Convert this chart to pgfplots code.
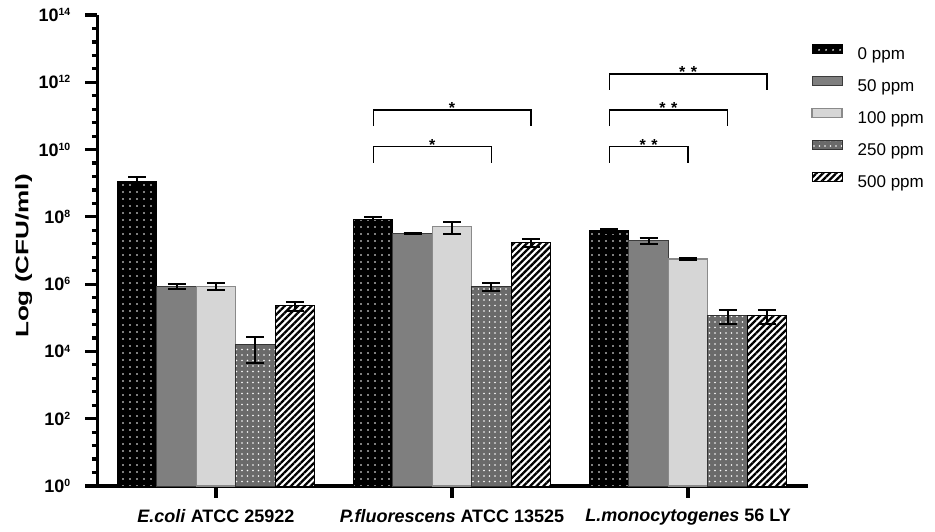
\documentclass[border=0pt]{standalone}
\usepackage{pgfplots}
\pgfplotsset{compat=1.18}
\usepackage{fontspec}
\setmainfont{Liberation Sans}
\usepackage{graphicx}
\usetikzlibrary{patterns,patterns.meta}

\definecolor{cfifty}{HTML}{7F7F7F}
\definecolor{cfiftyd}{HTML}{3C3C3C}
\definecolor{chund}{HTML}{D6D6D6}
\definecolor{chundd}{HTML}{8A8A8A}
\definecolor{ctwofifty}{HTML}{6A6A6A}
\definecolor{ctwofiftyd}{HTML}{333333}

\newcommand{\tl}[1]{10\raisebox{5.8pt}{\fontsize{10.5}{10.5}\selectfont #1}}

\pgfplotsset{my legend/.style={legend image code/.code={\draw[##1] (0pt,1.5pt) rectangle (30pt,10.5pt);}}}

\begin{document}
\begin{tikzpicture}
\useasboundingbox (0,0) rectangle (935pt,531pt);
\begin{axis}[
  at={(97.5pt,45pt)}, anchor=south west,
  scale only axis, width=710.5pt, height=471pt,
  ymode=log, ymin=1, ymax=1e14,
  xmin=-0.502, xmax=2.508,
  ybar=0pt, bar width=0.167,
  axis x line=bottom, axis y line=left,
  axis line style={-, line width=3.5pt, black},
  tick align=outside, xtick align=outside, ytick align=outside,
  major tick length=12pt, minor tick length=5.5pt,
  tick style={line width=3.2pt, black, line cap=butt},
  xtick={0,1,2},
  xticklabels={{\textit{E.coli} ATCC 25922},{\textit{P.fluorescens} ATCC 13525},{\textit{L.monocytogenes} 56 LY}},
  ytick={1,1e2,1e4,1e6,1e8,1e10,1e12,1e14},
  yticklabels={\tl{0},\tl{2},\tl{4},\tl{6},\tl{8},\tl{10},\tl{12},\tl{14}},
  minor ytick={2.5119,6.3096,15.849,39.811,251.19,630.96,1584.9,3981.1,2.5119e4,6.3096e4,1.5849e5,3.9811e5,2.5119e6,6.3096e6,1.5849e7,3.9811e7,2.5119e8,6.3096e8,1.5849e9,3.9811e9,2.5119e10,6.3096e10,1.5849e11,3.9811e11,2.5119e12,6.3096e12,1.5849e13,3.9811e13},
  ticklabel style={font=\fontsize{18}{18}\selectfont\bfseries},
  xticklabel style={anchor=north, inner sep=0pt, yshift=-11pt},
  yticklabel style={anchor=east, inner sep=2pt, xshift=-13pt},
  ylabel={\scalebox{1.45}[1]{Log (CFU/ml)}},
  ylabel style={font=\fontsize{18}{18}\selectfont\bfseries, at={(axis description cs:-0.1161,0.4883)}, anchor=north, inner sep=0pt},
  every axis plot post/.append style={my legend},
  error bars/y dir=both, error bars/y explicit,
  error bars/error bar style={line width=2pt, black},
  error bars/error mark options={rotate=90, mark size=9pt, line width=2pt, black},
  legend cell align=left,
  legend style={draw=none, fill=none, inner sep=0pt, outer sep=0pt,
    at={(axis description cs:1.0049,0.9384)}, anchor=north west,
    row sep=13.5pt, column sep=15pt,
    font=\fontsize{17}{17}\selectfont,
    nodes={inner sep=0pt, text height=12pt, text depth=3pt}},
  clip=false,
]
% 0 ppm
\addplot[fill=black, draw=black, line width=1pt, postaction={pattern={Dots[distance=6.5pt, radius=1pt]}, pattern color=white}]
  coordinates {(0,1.15e9) +- (0,0.36e9) (1,8.1e7) +- (0,1.9e7) (2,3.9e7) +- (0,0.55e7)};
% 50 ppm
\addplot[fill=cfifty, draw=cfiftyd, line width=1pt]
  coordinates {(0,8.7e5) +- (0,1.4e5) (1,3.25e7) +- (0,1.0e6) (2,1.96e7) +- (0,4.0e6)};
% 100 ppm
\addplot[fill=chund, draw=chundd, line width=1.2pt]
  coordinates {(0,8.7e5) +- (0,2.1e5) (1,5.1e7) +- (0,2.05e7) (2,5.6e6) +- (0,4.0e5)};
% 250 ppm
\addplot[fill=ctwofifty, draw=ctwofiftyd, line width=1pt, postaction={pattern={Dots[distance=5.5pt, radius=0.85pt]}, pattern color=white}]
  coordinates {(0,1.56e4) +- (0,1.1e4) (1,8.4e5) +- (0,2.35e5) (2,1.19e5) +- (0,5.5e4)};
% 500 ppm
\addplot[fill=white, draw=black, line width=1pt, postaction={pattern={Lines[angle=45, distance=4.7pt, line width=2.3pt]}, pattern color=black}]
  coordinates {(0,2.34e5) +- (0,0.7e5) (1,1.7e7) +- (0,4.5e6) (2,1.19e5) +- (0,5.5e4)};
\legend{0 ppm,50 ppm,100 ppm,250 ppm,500 ppm}

% significance brackets
\draw[line width=1.4pt] (axis cs:0.666,4.08e9) |- (axis cs:1.167,1.22e10) -- (axis cs:1.167,4.08e9);
\draw[line width=1.4pt] (axis cs:0.666,5.0e10) |- (axis cs:1.334,1.50e11) -- (axis cs:1.334,5.0e10);
\draw[line width=1.4pt] (axis cs:1.666,4.08e9) |- (axis cs:2.0,1.22e10) -- (axis cs:2.0,4.08e9);
\draw[line width=1.4pt] (axis cs:1.666,5.0e10) |- (axis cs:2.167,1.50e11) -- (axis cs:2.167,5.0e10);
\draw[line width=1.4pt] (axis cs:1.666,5.9e11) |- (axis cs:2.334,1.77e12) -- (axis cs:2.334,5.9e11);
\begin{scope}[every node/.style={font=\fontsize{16}{16}\selectfont\bfseries, anchor=base, inner sep=0pt, yshift=-3.5pt}]
\node at (axis cs:0.9165,1.22e10) {*};
\node at (axis cs:1.0,1.50e11) {*};
\node at (axis cs:1.833,1.22e10) {*\hspace{5.5pt}*};
\node at (axis cs:1.9165,1.50e11) {*\hspace{5.5pt}*};
\node at (axis cs:2.0,1.77e12) {*\hspace{5.5pt}*};
\end{scope}
\end{axis}
\end{tikzpicture}
\end{document}
